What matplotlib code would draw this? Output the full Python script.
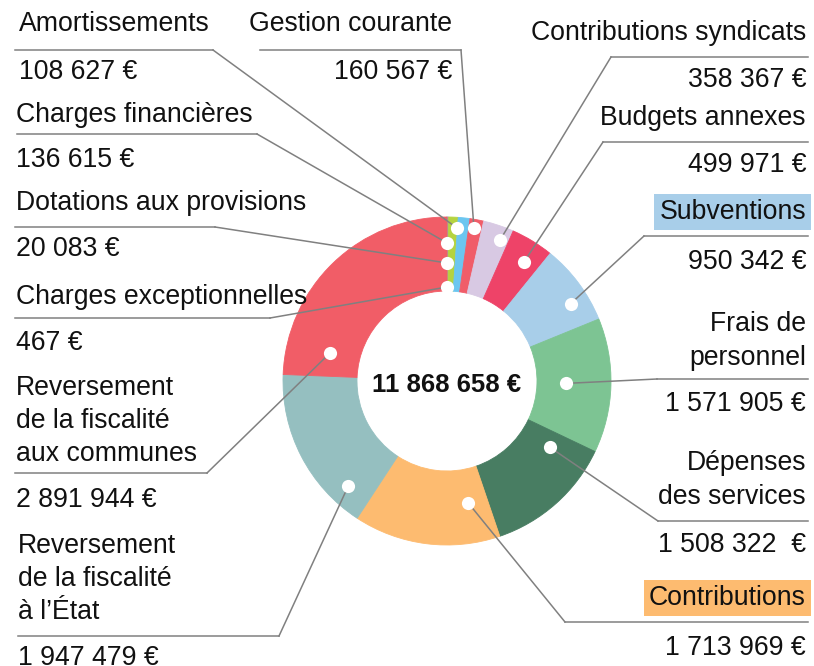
import numpy as np
import matplotlib
matplotlib.use('Agg')
import matplotlib.pyplot as plt

plt.rcParams['font.family'] = ['Liberation Sans', 'DejaVu Sans']

# slices, clockwise from 12 o'clock
names = ['Charges exceptionnelles', 'Dotations aux provisions', 'Amortissements',
         'Charges financières', 'Gestion courante', 'Contributions syndicats',
         'Budgets annexes', 'Subventions', 'Frais de\npersonnel',
         'Dépenses\ndes services', 'Contributions',
         'Reversement\nde la fiscalité\nà l’État',
         'Reversement\nde la fiscalité\naux communes']
values = [467, 20083, 108627, 136615, 160567, 358367, 499971, 950342,
          1571905, 1508322, 1713969, 1947479, 2891944]
value_labels = ['467 €', '20 083 €', '108 627 €', '136 615 €', '160 567 €',
                '358 367 €', '499 971 €', '950 342 €', '1 571 905 €',
                '1 508 322  €', '1 713 969 €', '1 947 479 €', '2 891 944 €']
colors = ['#4a6db3', '#a3a3a3', '#b5d33f', '#6cc6f0', '#f05d69', '#d8c9e3',
          '#ee4368', '#a8cee9', '#7dc493', '#487d62', '#fdbb70', '#95bfc0',
          '#f15d67']
total_label = '11 868 658 €'

# layout: ha, text x, name y, value y, underline y, x0, x1, dot frac, dot radius, box
layout = [
    ('left', 16, 297, 343, 318, 15, 270, 0.0, 94, None),
    ('left', 16, 203, 249, 227, 15, 215, 0.0, 118, None),
    ('left', 19, 24, 72, 50, 15, 213, 1.0, 153, None),
    ('left', 16, 115, 160, 134, 17, 257, -0.94, 138, None),
    ('right', 452, 24, 72, 50, 260, 461, 0.4, 155, None),
    ('right', 806, 33, 80, 57, 611, 808, 0.71, 151, None),
    ('right', 806, 118, 165, 142, 603, 808, 0.6, 142, None),
    ('right', 806, 212, 262, 236, 644, 808, 0.66, 146, '#a8cee9'),
    ('right', 806, 341, 404, 379, 657, 808, 0.49, 119, None),
    ('right', 806, 480, 545, 521, 658, 808, 0.16, 122, None),
    ('right', 806, 598, 648, 622, 565, 808, 0.17, 124, '#fdbb70'),
    ('left', 18, 579, 658, 636, 18, 279, 0.17, 144, None),
    ('left', 16, 421, 500, 473, 15, 207, 0.13, 120, None),
]

W, H = 814, 666
cx, cy, R, ring = 447, 381, 164, 74

fig = plt.figure(figsize=(W / 100, H / 100), dpi=100)
ax = fig.add_axes([0, 0, 1, 1])

wedges, _ = ax.pie(values, colors=colors, center=(cx, cy), radius=R,
                   startangle=-90, counterclock=True,
                   wedgeprops=dict(width=ring, linewidth=0))
for w, c in zip(wedges, colors):
    w.set_edgecolor(c)
    w.set_linewidth(0.6)

ax.set_xlim(0, W)
ax.set_ylim(H, 0)
ax.set_aspect('equal')
ax.axis('off')

ax.text(cx, cy + 4, total_label, ha='center', va='center', fontsize=18.5,
        fontweight='bold', color='#111111')

vals = np.array(values, dtype=float)
ends = np.cumsum(vals) / vals.sum() * 360
starts = ends - vals / vals.sum() * 360

for i in range(len(values)):
    ha, tx, ny, vy, ly, x0, x1, frac, rr, box = layout[i]
    a = np.radians(starts[i] + frac * (ends[i] - starts[i]))
    dx, dy = cx + rr * np.sin(a), cy - rr * np.cos(a)
    ex = x0 if abs(dx - x0) < abs(dx - x1) else x1
    ax.plot([x0, x1], [ly, ly], color='#808080', lw=1.1, zorder=3)
    ax.plot([ex, dx], [ly, dy], color='#808080', lw=1.1, zorder=3)
    ax.scatter([dx], [dy], s=90, color='white', zorder=4, linewidths=0)
    kw = {}
    if box:
        kw['bbox'] = dict(boxstyle='square,pad=0.2', fc=box, ec='none')
    ax.text(tx, ny, names[i], ha=ha, va='center', fontsize=19.2,
            color='#111111', linespacing=1.36, **kw)
    ax.text(tx, vy, value_labels[i], ha=ha, va='center', fontsize=19.2,
            color='#111111')

fig.savefig('out.png', dpi=100)
